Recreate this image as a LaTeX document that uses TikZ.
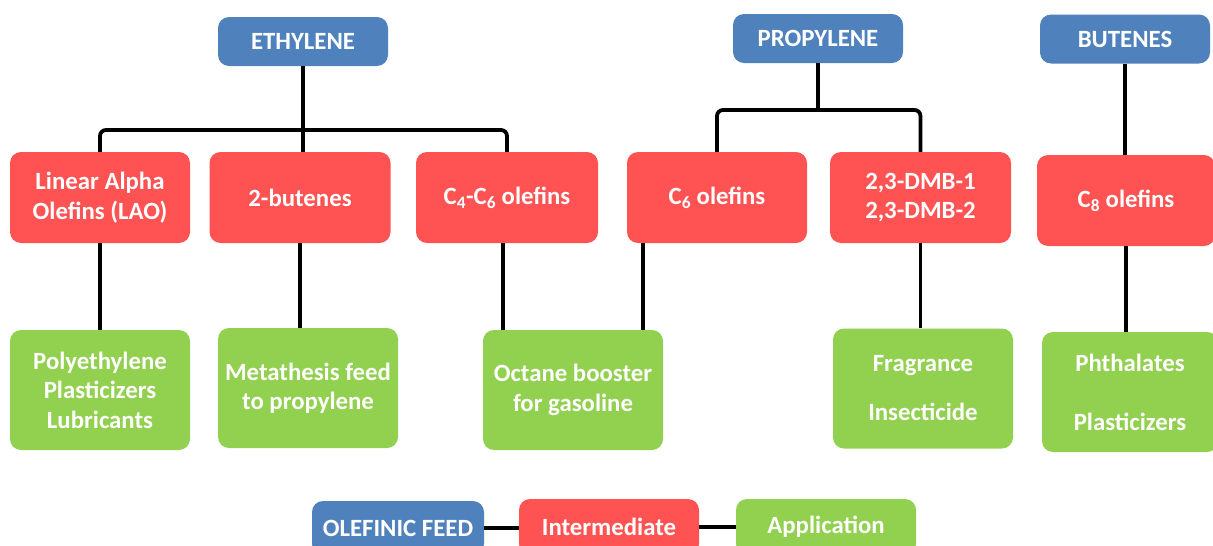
\documentclass[tikz,border=0pt]{standalone}
\usepackage{fontspec}
\setmainfont{Carlito}
\definecolor{feedblue}{HTML}{4F81BD}
\definecolor{midred}{HTML}{FF5252}
\definecolor{appgreen}{HTML}{92D050}
\begin{document}
\begin{tikzpicture}[x=1pt,y=-1pt,
  box/.style={rounded corners=11pt, text=white, align=center, inner sep=0pt,
    font=\fontsize{24.8}{29.5}\selectfont\bfseries},
  feed/.style={box, fill=feedblue, minimum width=170pt, minimum height=49pt},
  inter/.style={box, fill=midred, minimum width=181pt, minimum height=91pt},
  appl/.style={box, fill=appgreen, minimum width=180pt, minimum height=120pt},
  conn/.style={line width=3.8pt, black, rounded corners=6pt}]
\clip (0,0) rectangle (1213,546);
\fill[white] (0,0) rectangle (1213,546);

% feeds
\node[feed] (eth)  at (303,41.5) {ETHYLENE};
\node[feed] (prop) at (818,38.5) {PROPYLENE};
\node[feed] (but)  at (1125,39) {BUTENES};

% intermediates
\node[inter, minimum width=180pt] (lao) at (100,197.5) {Linear Alpha\\Olefins (LAO)};
\node[inter] (bt2) at (300,197.5) {2-butenes};
\node[inter, minimum width=182pt] (c46) at (507,197.5) {C\textsubscript{4}-C\textsubscript{6} olefins};
\node[inter, minimum width=180pt] (c6) at (717,197.5) {C\textsubscript{6} olefins};
\node[inter] (dmb) at (920.5,197.5) {2,3-DMB-1\\2,3-DMB-2};
\node[inter, minimum width=178pt] (c8) at (1126,200.5) {C\textsubscript{8} olefins};

% applications
\node[appl] (pe)  at (100,390) {Polyethylene\\Plasticizers\\Lubricants};
\node[appl] (met) at (308,388) {\raisebox{-3pt}{\parbox{170pt}{\centering Metathesis feed\\to propylene}}};
\node[appl] (oct) at (573,390) {\raisebox{-3pt}{\parbox{170pt}{\centering Octane booster\\for gasoline}}};
\node[appl] (fra) at (923,388.5) {Fragrance\\[19.5pt]Insecticide};
\node[appl, minimum width=176pt] (pht) at (1130,392) {Phthalates\\[29.5pt]Plasticizers};

% legend
\node[feed, minimum width=172pt, minimum height=54pt] (lf) at (398,528) {OLEFINIC FEED};
\node[inter, minimum width=180pt, minimum height=56pt] (li) at (609,527) {Intermediate};
\node[appl, minimum width=180pt, minimum height=56pt] (la) at (826,527) {\raisebox{-2pt}{Application}};

% ethylene tree
\coordinate (eb) at (303,130);
\draw[conn] (lao.north) |- (eb) -| (c46.north);
\draw[conn] (eth.south) -- (eth.south |- bt2.north);
% propylene tree
\coordinate (pb) at (818,110);
\draw[conn] (c6.north) |- (pb) -| (dmb.north);
\draw[conn] (prop.south) -- (pb);
% butenes
\draw[conn] (but.south) -- (but.south |- c8.north);

% to applications
\draw[conn] (lao.south) -- (pe.north);
\draw[conn] (bt2.south) -- (bt2.south |- met.north);
\draw[conn] ([xshift=-4pt]c46.south) -- ([xshift=-4pt]c46.south |- oct.north);
\draw[conn] ([xshift=-20pt]oct.north east) -- ([xshift=-20pt]oct.north east |- c6.south);
\draw[conn] (dmb.south) -- (dmb.south |- fra.north);
\draw[conn] (c8.south) -- (c8.south |- pht.north);

% legend connectors
\draw[conn] (lf.east) -- (lf.east -| li.west);
\draw[conn] (li.east) -- (li.east -| la.west);
\end{tikzpicture}
\end{document}
